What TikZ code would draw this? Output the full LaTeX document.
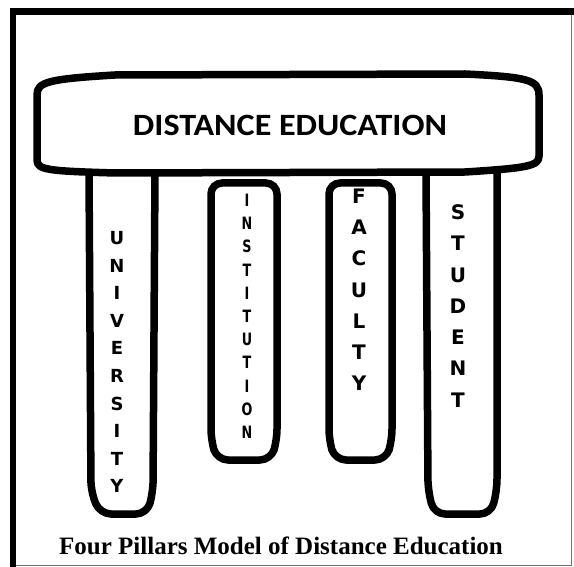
\documentclass[tikz,border=0pt]{standalone}
\usepackage{fontspec}
\newfontfamily\titlefont{Carlito}
\newfontfamily\letterfont{DejaVu Sans}
\newfontfamily\capfont{Liberation Serif}
\definecolor{framegray}{RGB}{112,112,112}
\tikzset{
  outline/.style={draw=black, line width=7.5pt, line join=round, line cap=round},
  pillar/.style={outline, rounded corners=11pt},
  uletter/.style={anchor=base, inner sep=0pt, font=\letterfont\bfseries\fontsize{18}{18}\selectfont},
  iletter/.style={anchor=base, inner sep=0pt, xscale=0.75, font=\letterfont\bfseries\fontsize{17}{17}\selectfont},
  fletter/.style={anchor=base, inner sep=0pt, font=\letterfont\bfseries\fontsize{20}{20}\selectfont},
}
\begin{document}
\begin{tikzpicture}[x=1pt,y=-1pt]
\useasboundingbox (0,0) rectangle (574,567);
\fill[white] (0,0) rectangle (574,567);
% frame
\draw[line width=1.5pt, framegray] (571.5,12) -- (571.5,565.5) -- (13,565.5);
\draw[line width=7pt, black] (10,12) -- (574,12);
\draw[line width=6pt, black] (13,9) -- (13,567);
% pillars
\draw[pillar] (89,172) -- (91,492) -- (100,514) -- (147,514) -- (153,492) -- (155,172);
\draw[pillar] (211,183) -- (277,183) -- (277,440) -- (271,460) -- (217,460) -- (211,440) -- cycle;
\draw[pillar] (329,183) -- (392,183) -- (392,440) -- (386,460) -- (335,460) -- (329,440) -- cycle;
\draw[pillar] (426,172) -- (428,490) -- (434,514) -- (491,514) -- (497,490) -- (497,172);
% top box
\draw[outline, fill=white] (37,160) -- (37,95) .. controls (37,82) and (48,79) .. (115,75)
  -- (465,74) .. controls (528,77) and (539,80) .. (539,95) -- (539,156)
  .. controls (539,166) and (528,168) .. (465,172) -- (115,173)
  .. controls (48,171) and (37,170) .. (37,160) -- cycle;
\node[anchor=base, inner sep=0pt, xscale=1.1, font=\titlefont\bfseries\fontsize{31}{31}\selectfont] (title) at (290,136) {DISTANCE EDUCATION};
% pillar letters
\foreach \l [count=\i from 0] in {U,N,I,V,E,R,S,I,T,Y}
  \node[uletter] (u\i) at (117,244.5+27.6*\i) {\l};
\foreach \l [count=\i from 0] in {I,N,S,T,I,T,U,T,I,O,N}
  \node[iletter] (i\i) at (247,206.5+23.2*\i) {\l};
\foreach \l [count=\i from 0] in {F,A,C,U,L,T,Y}
  \node[fletter] (f\i) at (359,203.5+31.2*\i) {\l};
\foreach \l [count=\i from 0] in {S,T,U,D,E,N,T}
  \node[fletter] (s\i) at (458,219.5+31.3*\i) {\l};
% caption
\node[anchor=base, inner sep=0pt, font=\capfont\bfseries\fontsize{25}{25}\selectfont] (caption) at (281,554) {Four Pillars Model of Distance Education};
\end{tikzpicture}
\end{document}
